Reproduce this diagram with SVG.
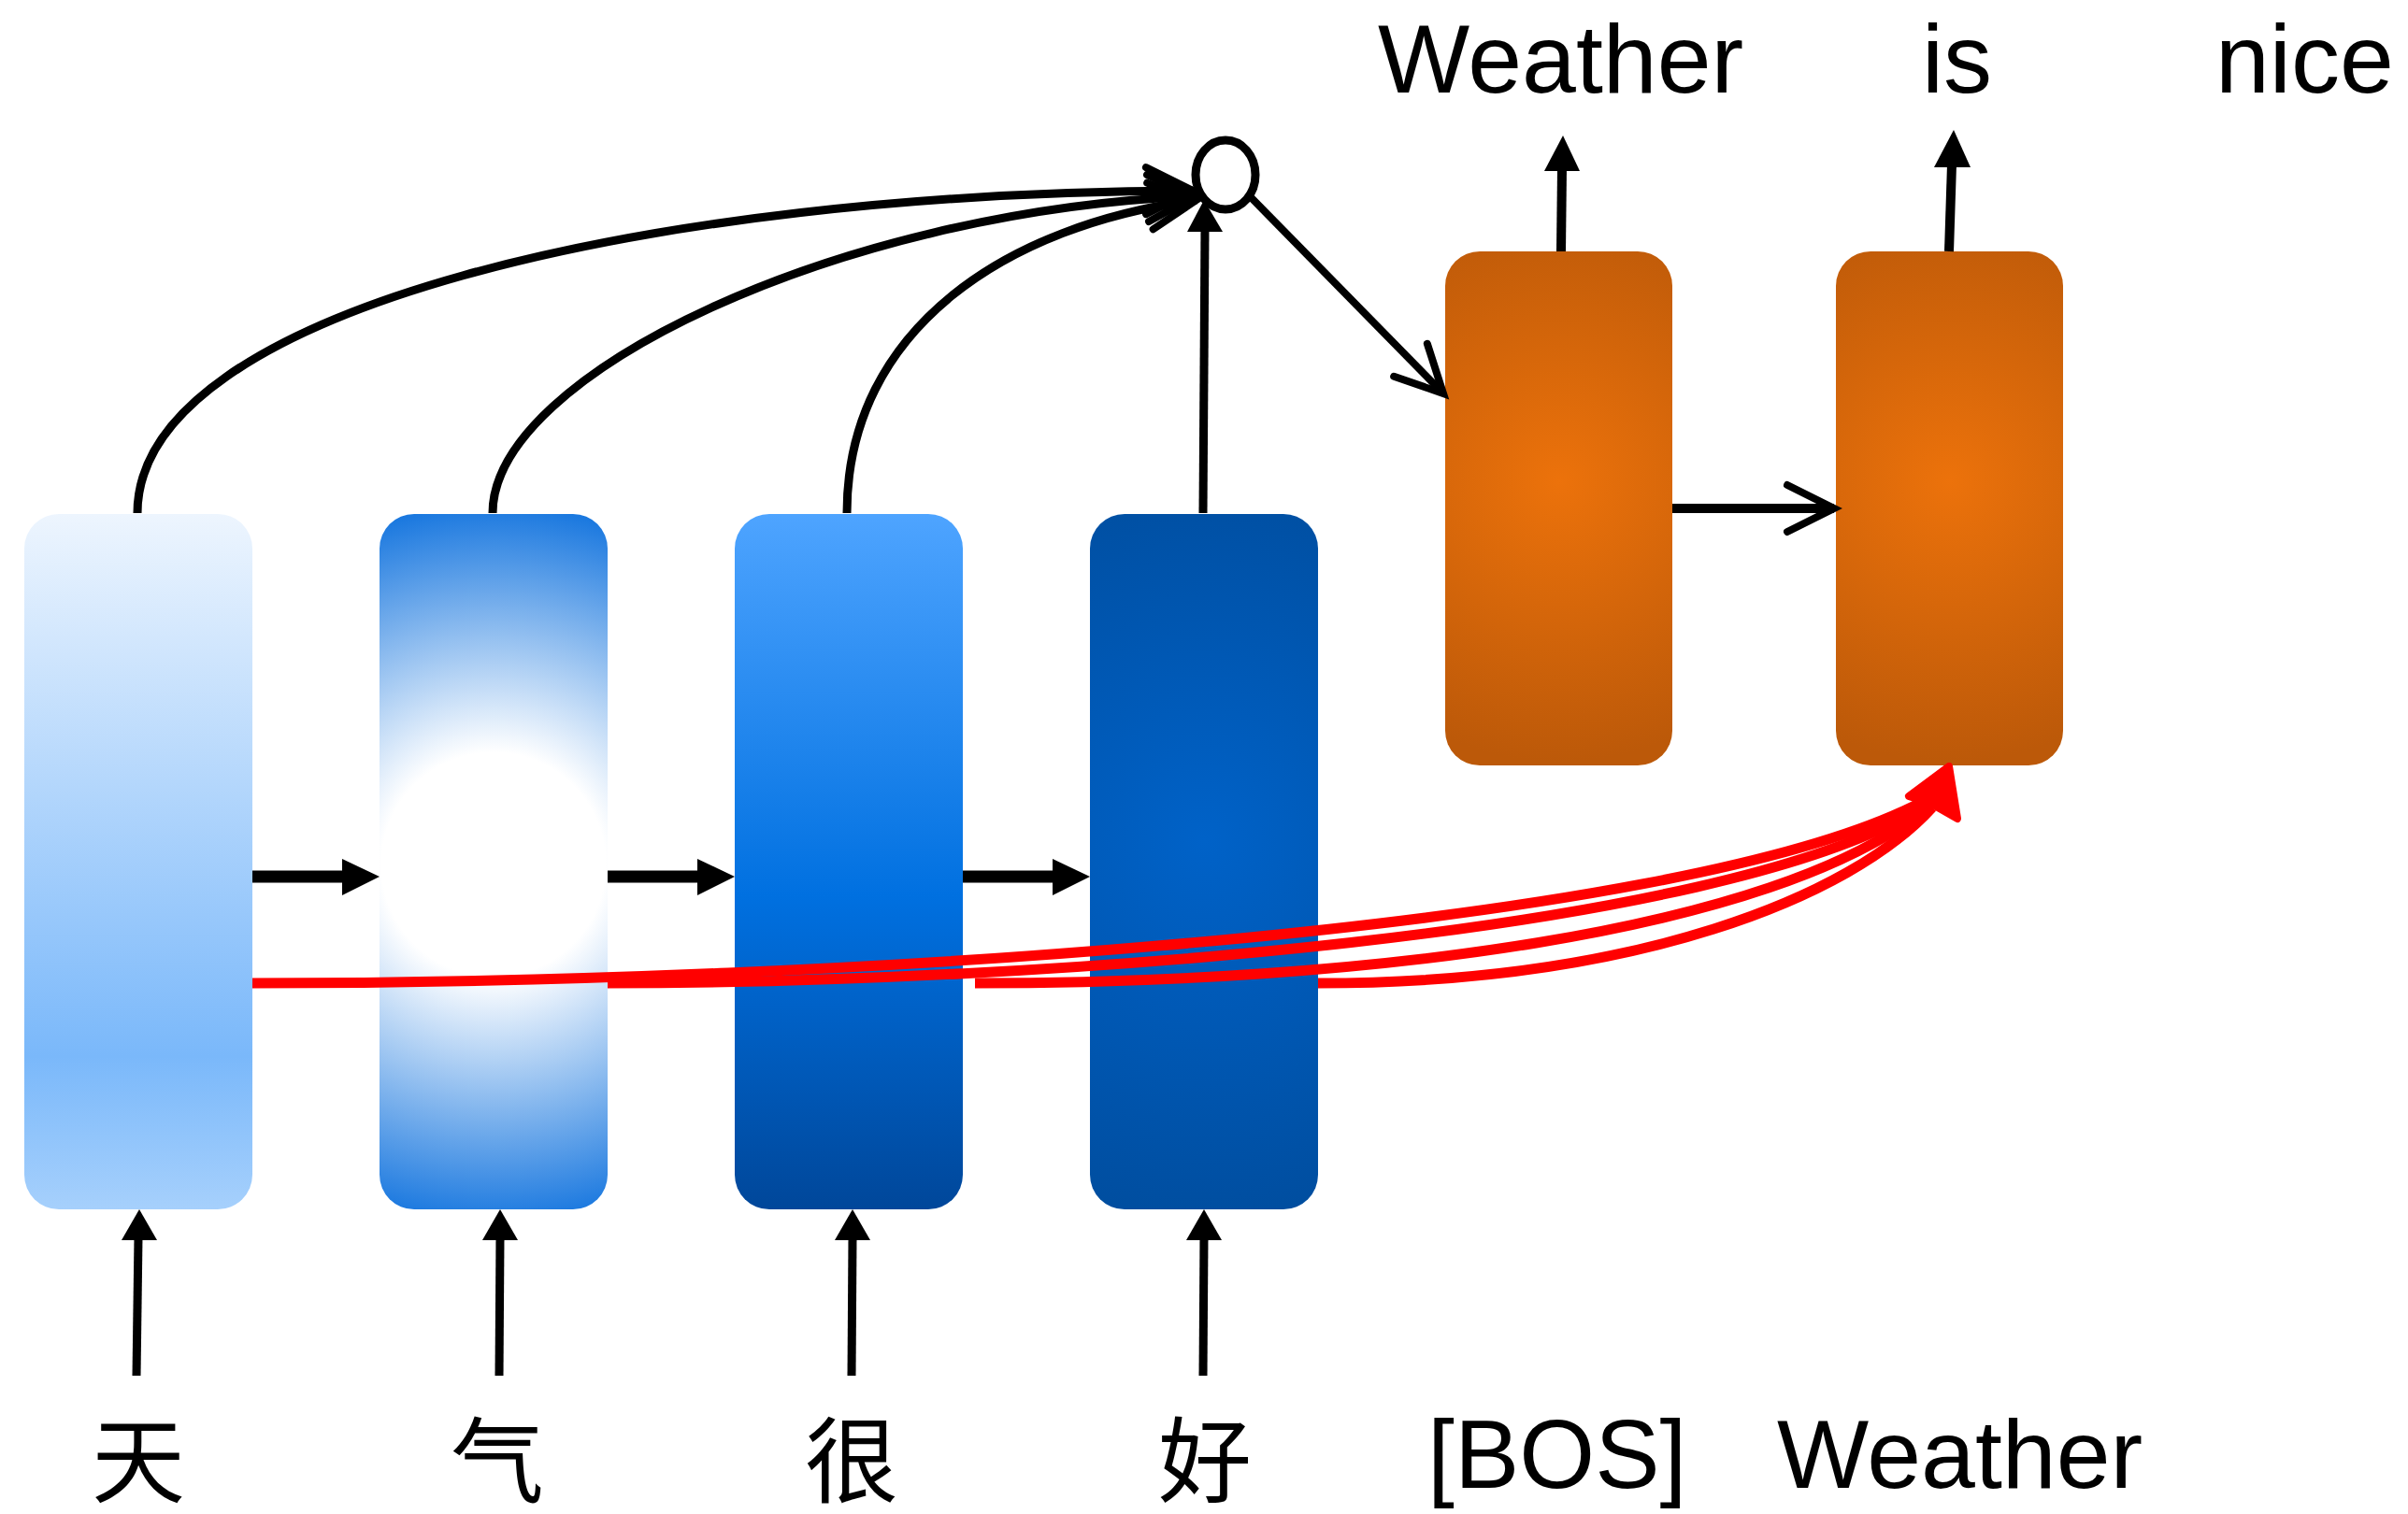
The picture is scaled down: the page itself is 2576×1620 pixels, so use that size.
<svg xmlns="http://www.w3.org/2000/svg" width="2576" height="1620" viewBox="0 0 2576 1620">
<style>
.lbl{font-family:"Liberation Sans",Arial,sans-serif;font-size:104px;fill:#000}
.cjk{font-family:"Liberation Sans","Noto Sans CJK SC",sans-serif;font-size:100px;fill:#000;text-anchor:middle}
.blk{fill:none;stroke:#000;stroke-linecap:butt}
.red{fill:none;stroke:#FF0000;stroke-width:11}
.head{fill:#000}
</style>
<defs>
<linearGradient id="g1" x1="0" y1="0" x2="0" y2="1">
<stop offset="0" stop-color="#EDF5FE"/>
<stop offset="0.78" stop-color="#7AB8FA"/>
<stop offset="1" stop-color="#A6D0FC"/>
</linearGradient>
<radialGradient id="g2" gradientUnits="userSpaceOnUse" cx="528" cy="925" r="400">
<stop offset="0" stop-color="#FFFFFF"/>
<stop offset="0.3" stop-color="#FFFFFF"/>
<stop offset="0.96" stop-color="#1A78DF"/>
</radialGradient>
<linearGradient id="g3" x1="0" y1="0" x2="0" y2="1">
<stop offset="0" stop-color="#4EA4FF"/>
<stop offset="0.55" stop-color="#0070E0"/>
<stop offset="1" stop-color="#00479A"/>
</linearGradient>
<radialGradient id="g4" gradientUnits="userSpaceOnUse" cx="1288" cy="900" r="420">
<stop offset="0" stop-color="#0062C8"/>
<stop offset="1" stop-color="#004D9E"/>
</radialGradient>
<radialGradient id="go1" gradientUnits="userSpaceOnUse" cx="1668" cy="515" r="300">
<stop offset="0" stop-color="#EC720B"/>
<stop offset="1" stop-color="#BC5909"/>
</radialGradient>
<radialGradient id="go2" gradientUnits="userSpaceOnUse" cx="2086" cy="515" r="300">
<stop offset="0" stop-color="#EC720B"/>
<stop offset="1" stop-color="#BC5909"/>
</radialGradient>
<marker id="chev" markerUnits="userSpaceOnUse" viewBox="-60 -35 70 70" markerWidth="70" markerHeight="70" refX="0" refY="0" orient="auto">
<path d="M-50,-25 L0,0 L-50,25" fill="none" stroke="#000" stroke-width="8" stroke-linecap="round" stroke-linejoin="miter"/>
</marker>
</defs>

<g id="node-h1"><rect x="26" y="550" width="244" height="744" rx="37" fill="url(#g1)"/></g>
<g id="node-h2"><rect x="406" y="550" width="244" height="744" rx="37" fill="url(#g2)"/></g>
<g id="node-h3"><rect x="786" y="550" width="244" height="744" rx="37" fill="url(#g3)"/></g>
<g id="node-h4"><rect x="1166" y="550" width="244" height="744" rx="37" fill="url(#g4)"/></g>
<g id="node-d1"><rect x="1546" y="269" width="243" height="550" rx="37" fill="url(#go1)"/></g>
<g id="node-d2"><rect x="1964" y="269" width="243" height="550" rx="37" fill="url(#go2)"/></g>
<g id="node-attn"><ellipse cx="1311" cy="187" rx="32" ry="37" fill="#fff" stroke="#000" stroke-width="9"/></g>

<g id="connectors">
<line class="blk" x1="270" y1="938" x2="368" y2="938" stroke-width="13"/>
<polygon class="head" points="366,919 406,938 366,958"/>
<line class="blk" x1="650" y1="938" x2="748" y2="938" stroke-width="13"/>
<polygon class="head" points="746,919 786,938 746,958"/>
<line class="blk" x1="1030" y1="938" x2="1128" y2="938" stroke-width="13"/>
<polygon class="head" points="1126,919 1166,938 1126,958"/>
<line class="blk" x1="146" y1="1472" x2="148" y2="1324" stroke-width="9"/>
<polygon class="head" points="130,1327 149,1294 168,1327"/>
<line class="blk" x1="534" y1="1472" x2="535" y2="1324" stroke-width="9"/>
<polygon class="head" points="516,1327 535,1294 554,1327"/>
<line class="blk" x1="911" y1="1472" x2="912" y2="1324" stroke-width="9"/>
<polygon class="head" points="893,1327 912,1294 931,1327"/>
<line class="blk" x1="1287" y1="1472" x2="1288" y2="1324" stroke-width="9"/>
<polygon class="head" points="1269,1327 1288,1294 1307,1327"/>
<path class="blk" d="M147,549 C147,330 700,205 1276,204" stroke-width="9" marker-end="url(#chev)"/>
<path class="blk" d="M527,549 C527,400 900,225 1278,210" stroke-width="9" marker-end="url(#chev)"/>
<path class="blk" d="M906,549 C906,350 1080,240 1280,214" stroke-width="9" marker-end="url(#chev)"/>
<line class="blk" x1="1287" y1="549" x2="1289" y2="245" stroke-width="9"/>
<polygon class="head" points="1270,248 1288,214 1308,248"/>
<line class="blk" x1="1338" y1="211" x2="1544" y2="421" stroke-width="8" marker-end="url(#chev)"/>
<line class="blk" x1="1789" y1="544" x2="1962" y2="544" stroke-width="10" marker-end="url(#chev)"/>
<line class="blk" x1="1670" y1="269" x2="1671" y2="180" stroke-width="10"/>
<polygon class="head" points="1652,183 1672,145 1690,183"/>
<line class="blk" x1="2085" y1="269" x2="2088" y2="176" stroke-width="10"/>
<polygon class="head" points="2069,179 2090,139 2108,179"/>
<path class="red" d="M270,1052 C900,1052 1800,995 2058,857"/>
<path class="red" d="M650,1052 C1100,1052 1850,1000 2062,860"/>
<path class="red" d="M1043,1052 C1450,1052 1900,1000 2064,862"/>
<path class="red" d="M1410,1052 C1750,1052 1980,960 2067,864"/>
<polygon points="2085,820 2042,852 2066,860 2094,876" fill="#FF0000" stroke="#FF0000" stroke-width="8" stroke-linejoin="round"/>
</g>

<g id="labels">
<text class="lbl" x="1474" y="99">Weather</text>
<text class="lbl" x="2056" y="99">is</text>
<text class="lbl" x="2370" y="99">nice</text>
<text class="cjk" x="148" y="1600">天</text>
<text class="cjk" x="532" y="1600">气</text>
<text class="cjk" x="911" y="1600">很</text>
<text class="cjk" x="1289" y="1600">好</text>
<text class="lbl" x="1527" y="1592">[BOS]</text>
<text class="lbl" x="1901" y="1592">Weather</text>
</g>
</svg>
